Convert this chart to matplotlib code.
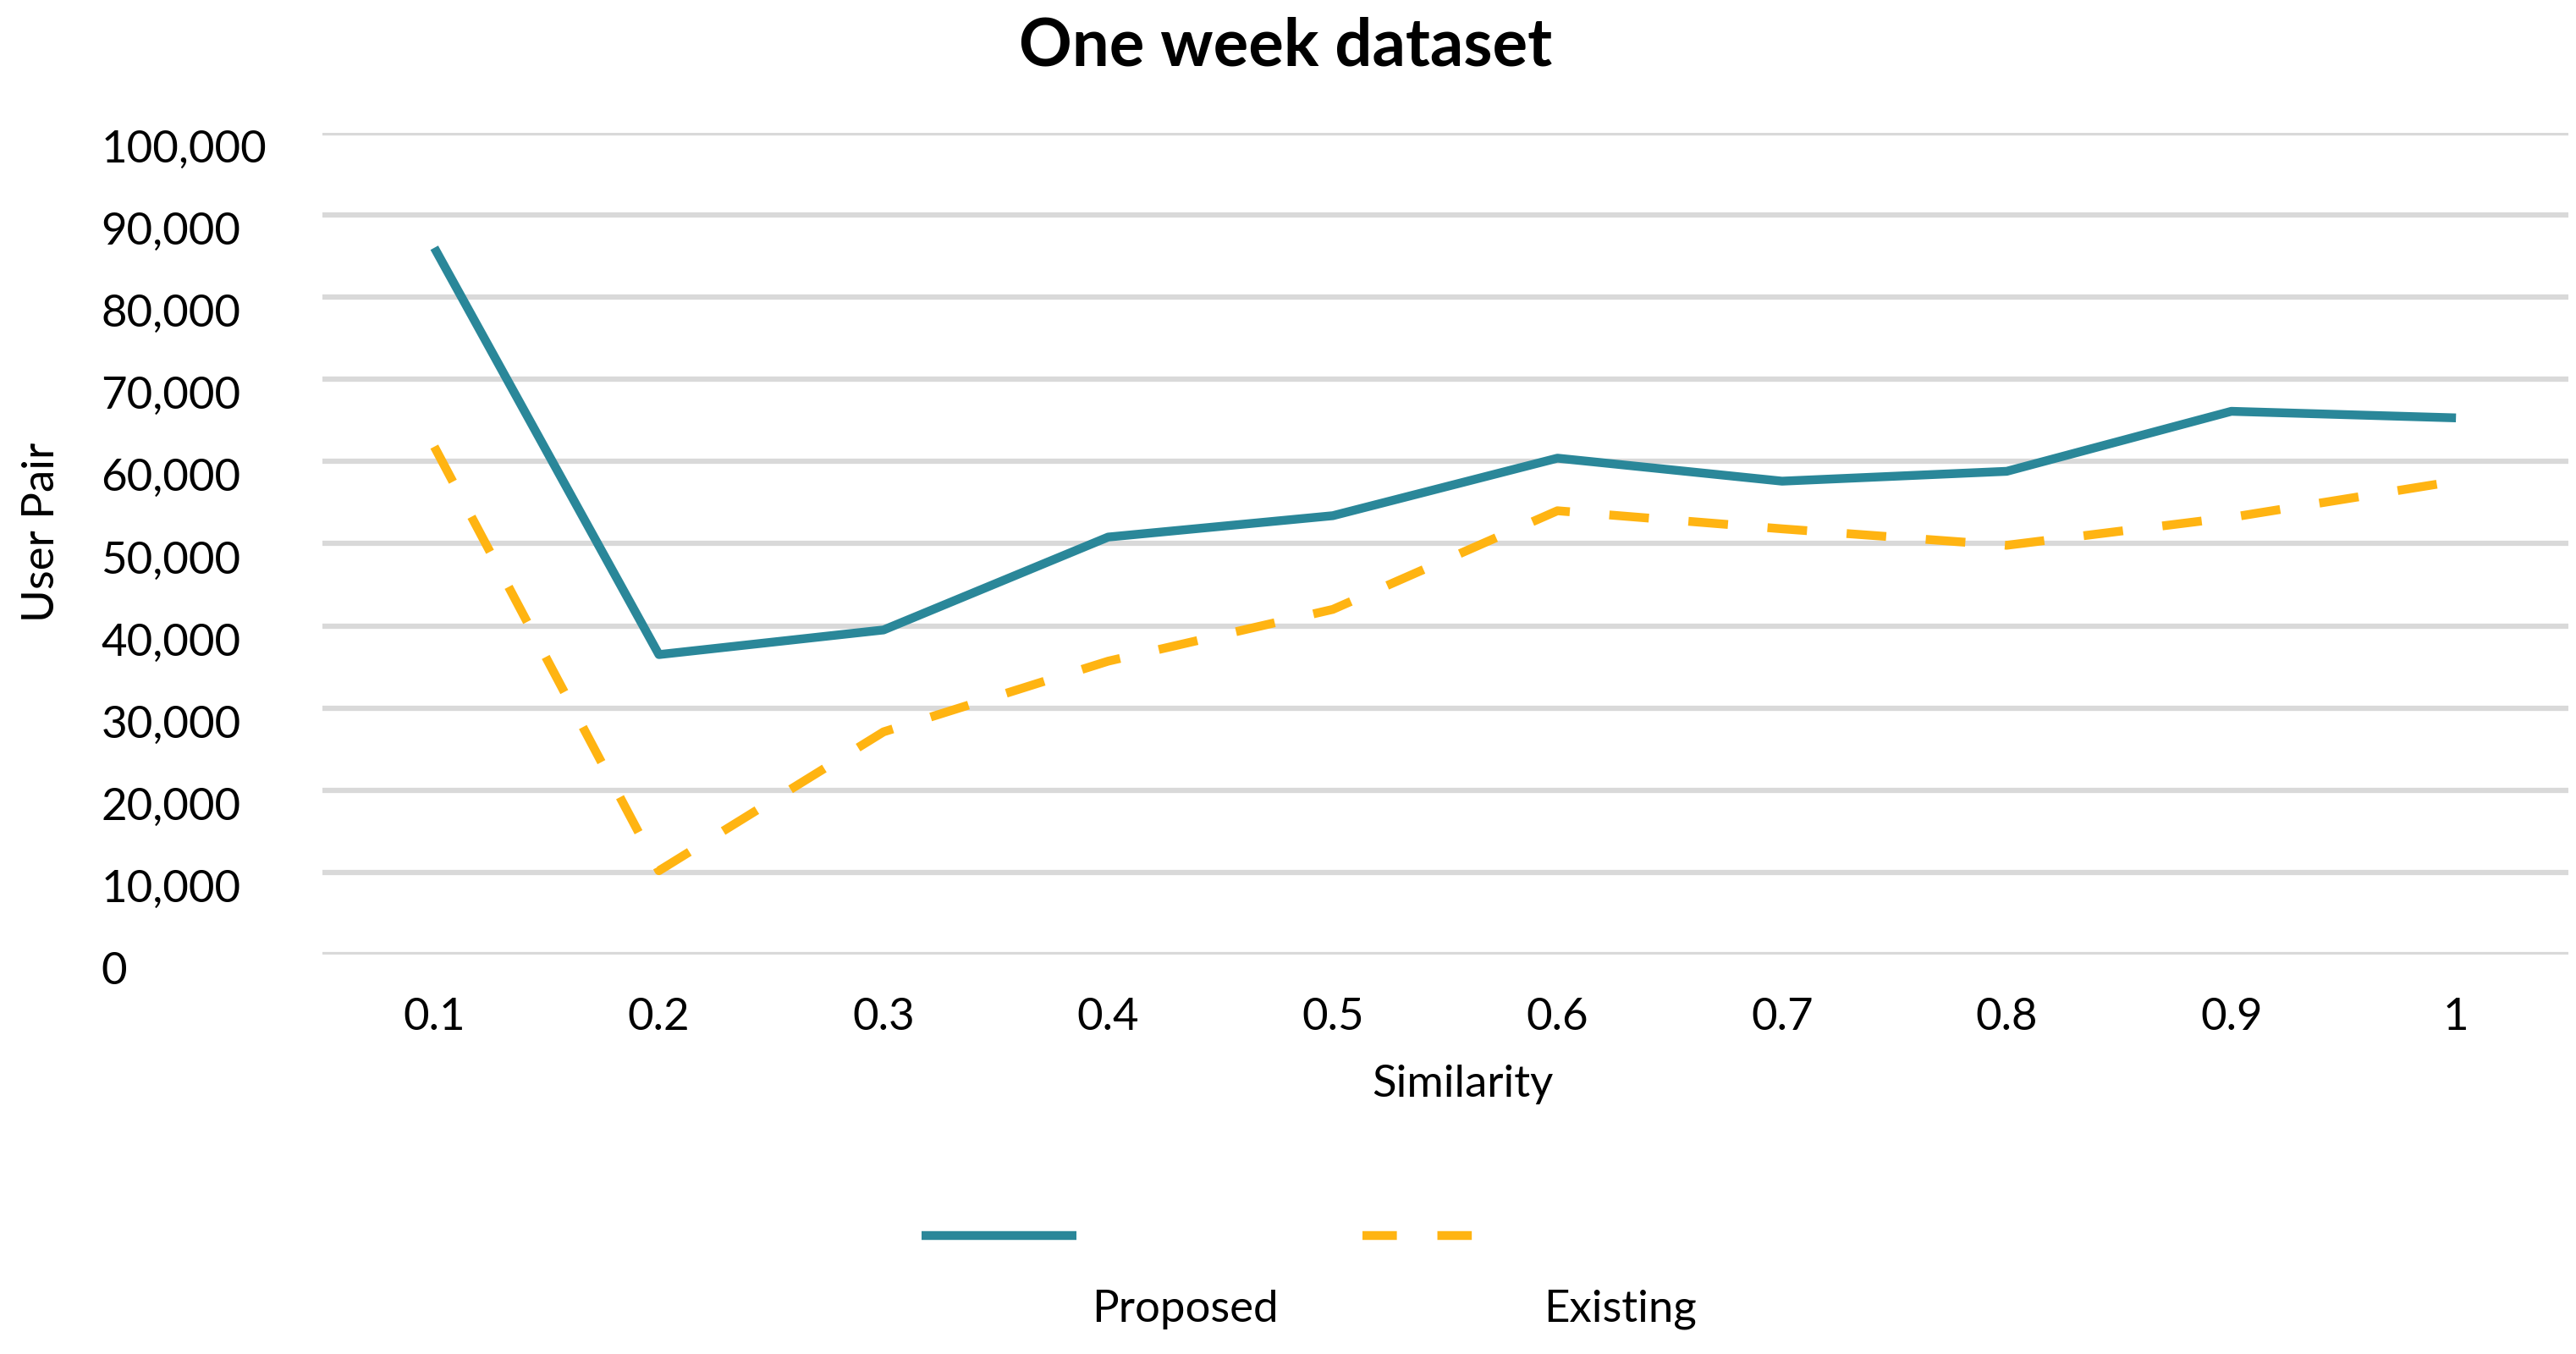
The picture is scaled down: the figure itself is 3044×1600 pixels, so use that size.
import matplotlib
matplotlib.use('Agg')
import matplotlib.pyplot as plt
from matplotlib.lines import Line2D
from matplotlib.transforms import ScaledTranslation

# Data
similarity = ['0.1', '0.2', '0.3', '0.4', '0.5', '0.6', '0.7', '0.8', '0.9', '1']
proposed = [86000, 36500, 39500, 50800, 53400, 60400, 57600, 58800, 66100, 65300]
existing = [61800, 10200, 27100, 35700, 42000, 54000, 51800, 49800, 53200, 57600]
yticks = [0, 10000, 20000, 30000, 40000, 50000, 60000, 70000, 80000, 90000, 100000]

teal = '#2A8799'
gold = '#FFB412'
lw = 7.5
dash = (4.5, 4.5)

plt.rcParams['font.family'] = ['Lato', 'DejaVu Sans']

fig = plt.figure(figsize=(30.44, 16), dpi=100)
ax = fig.add_axes([0.125, 0.295, 0.872, 0.607])

x = list(range(len(similarity)))
ax.plot(x, proposed, color=teal, lw=lw, solid_capstyle='butt', solid_joinstyle='round', label='Proposed')
ax.plot(x, existing, color=gold, lw=lw, dashes=dash, dash_capstyle='butt', label='Existing')

ax.set_xlim(-0.5, 9.5)
ax.set_ylim(0, 100000)
ax.set_xticks(x)
ax.set_xticklabels(similarity)
ax.set_yticks(yticks)
ax.set_yticklabels([f'{v:,}' for v in yticks])

ax.grid(axis='y', color='#D9D9D9', lw=4.5)
ax.set_axisbelow(True)
for s in ax.spines.values():
    s.set_visible(False)
ax.tick_params(length=0, labelsize=38)
ax.tick_params(axis='x', pad=37)
ax.tick_params(axis='y', pad=188)
for lab in ax.get_yticklabels():
    lab.set_horizontalalignment('left')
    lab.set_transform(lab.get_transform() + ScaledTranslation(0, -0.16, fig.dpi_scale_trans))

ax.set_ylabel('User Pair', fontsize=38)
ax.yaxis.set_label_coords(-0.116, 0.514)
ax.set_xlabel('Similarity', fontsize=38)
ax.xaxis.set_label_coords(0.508, -0.134)

fig.text(0.499, 0.965, 'One week dataset', fontsize=56, fontweight='bold', ha='center', va='center')

# Legend: handles on one row, labels underneath
fig.add_artist(Line2D([0.3577, 0.418], [0.0878, 0.0878], transform=fig.transFigure,
                      color=teal, lw=lw, solid_capstyle='butt'))
fig.add_artist(Line2D([0.529, 0.580], [0.0878, 0.0878], transform=fig.transFigure,
                      color=gold, lw=lw, dashes=(3.9, 4.6), dash_capstyle='butt'))
fig.text(0.460, 0.033, 'Proposed', fontsize=38, ha='center', va='center')
fig.text(0.629, 0.033, 'Existing', fontsize=38, ha='center', va='center')

fig.savefig('out.png', dpi=100)
